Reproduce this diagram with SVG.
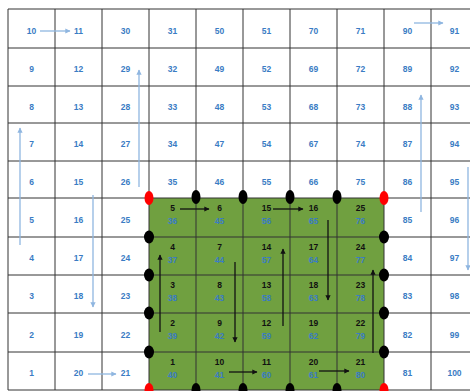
<svg xmlns="http://www.w3.org/2000/svg" width="470" height="391" viewBox="0 0 470 391">
<defs>
<style>
.g{stroke:#333;stroke-width:1;fill:none}
.w{font-family:"Liberation Sans",Arial,sans-serif;font-size:8.5px;font-weight:bold;fill:#3a7cc4;text-anchor:middle}
.k{font-family:"Liberation Sans",Arial,sans-serif;font-size:8.5px;font-weight:bold;fill:#111;text-anchor:middle}
.ba{stroke:#8fb6e0;stroke-width:1.3;fill:none;marker-end:url(#mb)}
.ka{stroke:#111;stroke-width:1.3;fill:none;marker-end:url(#mk)}
.dk{fill:#000}
.dr{fill:#f00}
</style>
<marker id="mb" viewBox="0 0 10 10" refX="9" refY="5" markerWidth="4" markerHeight="4" orient="auto"><path d="M0,0L10,5L0,10z" fill="#8fb6e0"/></marker>
<marker id="mk" viewBox="0 0 10 10" refX="9" refY="5" markerWidth="4" markerHeight="4" orient="auto"><path d="M0,0L10,5L0,10z" fill="#111"/></marker>
</defs>
<rect width="470" height="391" fill="#fff"/>
<rect id="region" x="149" y="198" width="235" height="192" fill="#70a040"/>
<g id="grid">
<path class="g" d="M8,9H478M8,48H478M8,86H478M8,123H478M8,161H478M8,198H478M8,237H478M8,275H478M8,313H478M8,352H478M8,390H478"/>
<path class="g" d="M8,9V390M55,9V390M102,9V390M149,9V390M196,9V390M243,9V390M290,9V390M337,9V390M384,9V390M431,9V390"/>
</g>
<g id="white-cells">
<text class="w" x="31.5" y="33.5">10</text><text class="w" x="31.5" y="72">9</text><text class="w" x="31.5" y="109.5">8</text><text class="w" x="31.5" y="147">7</text><text class="w" x="31.5" y="184.5">6</text><text class="w" x="31.5" y="222.5">5</text><text class="w" x="31.5" y="261">4</text><text class="w" x="31.5" y="299">3</text><text class="w" x="31.5" y="337.5">2</text><text class="w" x="31.5" y="376">1</text>
<text class="w" x="78.5" y="33.5">11</text><text class="w" x="78.5" y="72">12</text><text class="w" x="78.5" y="109.5">13</text><text class="w" x="78.5" y="147">14</text><text class="w" x="78.5" y="184.5">15</text><text class="w" x="78.5" y="222.5">16</text><text class="w" x="78.5" y="261">17</text><text class="w" x="78.5" y="299">18</text><text class="w" x="78.5" y="337.5">19</text><text class="w" x="78.5" y="376">20</text>
<text class="w" x="125.5" y="33.5">30</text><text class="w" x="125.5" y="72">29</text><text class="w" x="125.5" y="109.5">28</text><text class="w" x="125.5" y="147">27</text><text class="w" x="125.5" y="184.5">26</text><text class="w" x="125.5" y="222.5">25</text><text class="w" x="125.5" y="261">24</text><text class="w" x="125.5" y="299">23</text><text class="w" x="125.5" y="337.5">22</text><text class="w" x="125.5" y="376">21</text>
<text class="w" x="172.5" y="33.5">31</text><text class="w" x="172.5" y="72">32</text><text class="w" x="172.5" y="109.5">33</text><text class="w" x="172.5" y="147">34</text><text class="w" x="172.5" y="184.5">35</text>
<text class="w" x="219.5" y="33.5">50</text><text class="w" x="219.5" y="72">49</text><text class="w" x="219.5" y="109.5">48</text><text class="w" x="219.5" y="147">47</text><text class="w" x="219.5" y="184.5">46</text>
<text class="w" x="266.5" y="33.5">51</text><text class="w" x="266.5" y="72">52</text><text class="w" x="266.5" y="109.5">53</text><text class="w" x="266.5" y="147">54</text><text class="w" x="266.5" y="184.5">55</text>
<text class="w" x="313.5" y="33.5">70</text><text class="w" x="313.5" y="72">69</text><text class="w" x="313.5" y="109.5">68</text><text class="w" x="313.5" y="147">67</text><text class="w" x="313.5" y="184.5">66</text>
<text class="w" x="360.5" y="33.5">71</text><text class="w" x="360.5" y="72">72</text><text class="w" x="360.5" y="109.5">73</text><text class="w" x="360.5" y="147">74</text><text class="w" x="360.5" y="184.5">75</text>
<text class="w" x="407.5" y="33.5">90</text><text class="w" x="407.5" y="72">89</text><text class="w" x="407.5" y="109.5">88</text><text class="w" x="407.5" y="147">87</text><text class="w" x="407.5" y="184.5">86</text><text class="w" x="407.5" y="222.5">85</text><text class="w" x="407.5" y="261">84</text><text class="w" x="407.5" y="299">83</text><text class="w" x="407.5" y="337.5">82</text><text class="w" x="407.5" y="376">81</text>
<text class="w" x="454.5" y="33.5">91</text><text class="w" x="454.5" y="72">92</text><text class="w" x="454.5" y="109.5">93</text><text class="w" x="454.5" y="147">94</text><text class="w" x="454.5" y="184.5">95</text><text class="w" x="454.5" y="222.5">96</text><text class="w" x="454.5" y="261">97</text><text class="w" x="454.5" y="299">98</text><text class="w" x="454.5" y="337.5">99</text><text class="w" x="454.5" y="376">100</text>
</g>
<g id="green-cells">
<text class="k" x="172.5" y="211">5</text><text class="w" x="172.5" y="224">36</text>
<text class="k" x="172.5" y="250">4</text><text class="w" x="172.5" y="263">37</text>
<text class="k" x="172.5" y="288">3</text><text class="w" x="172.5" y="301">38</text>
<text class="k" x="172.5" y="326">2</text><text class="w" x="172.5" y="339">39</text>
<text class="k" x="172.5" y="365">1</text><text class="w" x="172.5" y="378">40</text>
<text class="k" x="219.5" y="211">6</text><text class="w" x="219.5" y="224">45</text>
<text class="k" x="219.5" y="250">7</text><text class="w" x="219.5" y="263">44</text>
<text class="k" x="219.5" y="288">8</text><text class="w" x="219.5" y="301">43</text>
<text class="k" x="219.5" y="326">9</text><text class="w" x="219.5" y="339">42</text>
<text class="k" x="219.5" y="365">10</text><text class="w" x="219.5" y="378">41</text>
<text class="k" x="266.5" y="211">15</text><text class="w" x="266.5" y="224">56</text>
<text class="k" x="266.5" y="250">14</text><text class="w" x="266.5" y="263">57</text>
<text class="k" x="266.5" y="288">13</text><text class="w" x="266.5" y="301">58</text>
<text class="k" x="266.5" y="326">12</text><text class="w" x="266.5" y="339">59</text>
<text class="k" x="266.5" y="365">11</text><text class="w" x="266.5" y="378">60</text>
<text class="k" x="313.5" y="211">16</text><text class="w" x="313.5" y="224">65</text>
<text class="k" x="313.5" y="250">17</text><text class="w" x="313.5" y="263">64</text>
<text class="k" x="313.5" y="288">18</text><text class="w" x="313.5" y="301">63</text>
<text class="k" x="313.5" y="326">19</text><text class="w" x="313.5" y="339">62</text>
<text class="k" x="313.5" y="365">20</text><text class="w" x="313.5" y="378">61</text>
<text class="k" x="360.5" y="211">25</text><text class="w" x="360.5" y="224">76</text>
<text class="k" x="360.5" y="250">24</text><text class="w" x="360.5" y="263">77</text>
<text class="k" x="360.5" y="288">23</text><text class="w" x="360.5" y="301">78</text>
<text class="k" x="360.5" y="326">22</text><text class="w" x="360.5" y="339">79</text>
<text class="k" x="360.5" y="365">21</text><text class="w" x="360.5" y="378">80</text>
</g>
<g id="connectors">
<path class="ba" d="M40,31H70"/>
<path class="ba" d="M139,187V70"/>
<path class="ba" d="M20,245V128"/>
<path class="ba" d="M93,195V307"/>
<path class="ba" d="M88,374H116"/>
<path class="ba" d="M414,23H443"/>
<path class="ba" d="M421,212V95"/>
<path class="ba" d="M468,167V270"/>
<path class="ka" d="M180,209H209"/>
<path class="ka" d="M160,332V255"/>
<path class="ka" d="M235,262V342"/>
<path class="ka" d="M229,372H257"/>
<path class="ka" d="M283,326V249"/>
<path class="ka" d="M273,209H303"/>
<path class="ka" d="M328,220V300"/>
<path class="ka" d="M319,371H349"/>
<path class="ka" d="M373,353V270"/>
</g>
<g id="dots">
<ellipse class="dr" cx="149" cy="198" rx="4.5" ry="7"/><ellipse class="dr" cx="384" cy="198" rx="4.5" ry="7"/>
<ellipse class="dr" cx="149" cy="390" rx="4.5" ry="7"/><ellipse class="dr" cx="384" cy="390" rx="4.5" ry="7"/>
<ellipse class="dk" cx="196" cy="197" rx="4.5" ry="7"/><ellipse class="dk" cx="243" cy="197" rx="4.5" ry="7"/><ellipse class="dk" cx="290" cy="197" rx="4.5" ry="7"/><ellipse class="dk" cx="337" cy="197" rx="4.5" ry="7"/>
<ellipse class="dk" cx="196" cy="390" rx="4.5" ry="7"/><ellipse class="dk" cx="243" cy="390" rx="4.5" ry="7"/><ellipse class="dk" cx="290" cy="390" rx="4.5" ry="7"/><ellipse class="dk" cx="337" cy="390" rx="4.5" ry="7"/>
<ellipse class="dk" cx="149" cy="237" rx="5" ry="6.5"/><ellipse class="dk" cx="149" cy="275" rx="5" ry="6.5"/><ellipse class="dk" cx="149" cy="313" rx="5" ry="6.5"/><ellipse class="dk" cx="149" cy="352" rx="5" ry="6.5"/>
<ellipse class="dk" cx="384" cy="237" rx="5" ry="6.5"/><ellipse class="dk" cx="384" cy="275" rx="5" ry="6.5"/><ellipse class="dk" cx="384" cy="313" rx="5" ry="6.5"/><ellipse class="dk" cx="384" cy="352" rx="5" ry="6.5"/>
</g>
</svg>
